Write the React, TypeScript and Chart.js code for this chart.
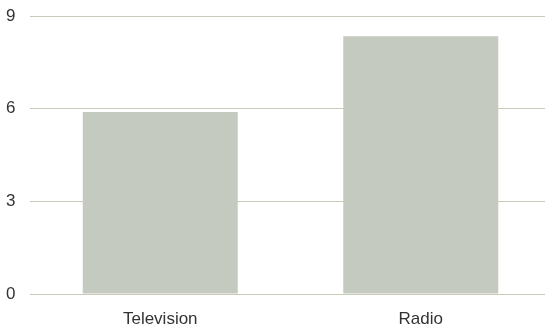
import React, { useEffect, useRef } from "react";
import { Chart, registerables } from "chart.js";

Chart.register(...registerables);

const categories = ["Television", "Radio"];
const values = [5.9, 8.35];
const yTicks = [0, 3, 6, 9];

const extendRight = {
  id: "extendRight",
  afterLayout(chart: any) {
    const extra = 6;
    const x = chart.scales.x;
    x.right += extra;
    x.width += extra;
    x.configure();
    const y = chart.scales.y;
    chart.chartArea.right += extra;
    chart.chartArea.width += extra;
    y.configure();
  },
};

export default function App() {
  const ref = useRef<HTMLCanvasElement | null>(null);
  useEffect(() => {
    if (!ref.current) return;
    const chart = new Chart(ref.current, {
      type: "bar",
      data: {
        labels: categories,
        datasets: [
          {
            data: values,
            backgroundColor: "#c5cac0",
            borderWidth: 0,
            categoryPercentage: 0.595,
            barPercentage: 1,
          },
        ],
      },
      plugins: [extendRight],
      options: {
        responsive: false,
        animation: false,
        layout: { padding: { left: 6, right: 0, top: 9, bottom: 3 } },
        plugins: { legend: { display: false }, tooltip: { enabled: false } },
        scales: {
          x: {
            afterFit: (scale: any) => {
              scale.height = 33;
            },
            grid: { display: false, drawTicks: false },
            border: { display: false },
            ticks: {
              padding: 15,
              color: "#333333",
              font: { family: "Liberation Sans, Arial", size: 17 },
            },
          },
          y: {
            min: 0,
            max: 9,
            afterFit: (scale: any) => {
              scale.width = 24;
            },
            afterBuildTicks: (axis: any) => {
              axis.ticks = yTicks.map((v) => ({ value: v }));
            },
            grid: {
              drawTicks: false,
              color: "#c9cab8",
            },
            border: { display: false },
            ticks: {
              padding: 6,
              crossAlign: "far",
              color: "#333333",
              font: { family: "Liberation Sans, Arial", size: 17 },
            },
          },
        },
      },
    });
    return () => chart.destroy();
  }, []);
  return (
    <div style={{ position: "absolute", left: 0, top: 0, width: 545, height: 330 }}>
      <canvas ref={ref} width={545} height={330} />
    </div>
  );
}
